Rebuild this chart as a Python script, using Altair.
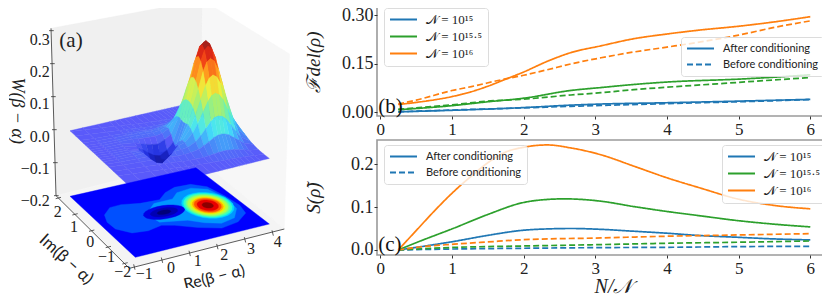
import altair as alt
import pandas as pd

# ---------- line panels: values ----------
B_ORANGE_AFTER = [(.25,.0235),(.5,.030),(1,.048),(1.27,.063),(1.5,.08),(1.73,.10),(2,.124),(2.33,.157),(2.66,.184),(3.08,.205),(3.54,.227),(4,.2415),(4.47,.254),(4.98,.265),(5.5,.279),(6,.295)]
B_ORANGE_BEFORE = [(.25,.025),(.5,.037),(1,.0667),(1.27,.079),(1.73,.102),(2,.114),(2.33,.131),(2.66,.149),(3.08,.168),(3.54,.186),(4,.201),(4.47,.217),(5,.238),(5.5,.262),(6,.282)]
B_GREEN_AFTER = [(.25,.0075),(1,.02),(1.5,.032),(2,.043),(2.66,.067),(3.08,.076),(3.54,.0855),(4,.093),(5,.102),(5.5,.108),(6,.1155)]
B_GREEN_BEFORE = [(.25,.0085),(1,.0225),(1.5,.034),(2,.040),(2.66,.053),(3.08,.060),(3.54,.0695),(4,.077),(5,.092),(5.5,.0995),(6,.107)]
B_BLUE_AFTER = [(.25,.001),(1,.0056),(2,.014),(2.66,.0216),(3.08,.025),(4,.029),(5,.034),(6,.0395)]
B_BLUE_BEFORE = [(.25,.001),(1,.0066),(2,.013),(2.66,.018),(3.08,.0207),(4,.0263),(5,.032),(6,.0385)]

C_ORANGE_AFTER = [(.25,0),(.5,.045),(.75,.09),(1,.132),(1.27,.172),(1.5,.203),(1.73,.2266),(2,.239),(2.33,.2445),(2.66,.2375),(3.08,.2215),(3.54,.195),(4,.168),(4.47,.144),(4.98,.119),(5.5,.1036),(6,.0958)]
C_GREEN_AFTER = [(.25,0),(.5,.017),(1.03,.051),(1.5,.0826),(2,.1106),(2.33,.1176),(2.57,.119),(3.08,.1135),(3.54,.101),(4,.0896),(4.47,.0794),(4.98,.0685),(5.5,.06),(6,.0537)]
C_BLUE_AFTER = [(.25,0),(.5,.006),(1.03,.02),(1.5,.034),(2,.046),(2.33,.049),(2.66,.05),(3.08,.048),(3.54,.0436),(4,.039),(4.47,.0335),(4.98,.0296),(5.5,.0257),(6,.0234)]
C_ORANGE_BEFORE = [(.25,0),(.5,.006),(1.03,.0135),(1.5,.0187),(2,.024),(3.08,.028),(4,.032),(5,.035),(6,.038)]
C_GREEN_BEFORE = [(.25,0),(1.03,.006),(2,.0093),(3.08,.0125),(4,.0156),(5,.018),(6,.021)]
C_BLUE_BEFORE = [(.25,0),(1.03,.0023),(2,.004),(3.08,.0055),(4,.0062),(5,.0078),(6,.0086)]

N15, N155, N16 = "\U0001D4A9 = 10¹⁵", "\U0001D4A9 = 10¹⁵·⁵", "\U0001D4A9 = 10¹⁶"
AFTER, BEFORE = "After conditioning", "Before conditioning"
SERIES = [N15, N155, N16]
COLORS = ["#1f77b4", "#2ca02c", "#ff7f0e"]
SERIF = "Liberation Serif"
SANS = "Lato"

def long_table(groups):
    rows = []
    for name, kind, pts in groups:
        rows += [{"x": x, "y": y, "series": name, "kind": kind} for x, y in pts]
    return pd.DataFrame(rows)

df_b = long_table([(N15,AFTER,B_BLUE_AFTER),(N15,BEFORE,B_BLUE_BEFORE),(N155,AFTER,B_GREEN_AFTER),(N155,BEFORE,B_GREEN_BEFORE),(N16,AFTER,B_ORANGE_AFTER),(N16,BEFORE,B_ORANGE_BEFORE)])
df_c = long_table([(N15,AFTER,C_BLUE_AFTER),(N15,BEFORE,C_BLUE_BEFORE),(N155,AFTER,C_GREEN_AFTER),(N155,BEFORE,C_GREEN_BEFORE),(N16,AFTER,C_ORANGE_AFTER),(N16,BEFORE,C_ORANGE_BEFORE)])

LEG = dict(orient="none", title=None, symbolType="stroke", symbolSize=729, symbolStrokeWidth=1.8,
           labelColor="#222", fillColor="rgba(255,255,255,0.8)", clipHeight=13,
           strokeColor="#dcdcdc", cornerRadius=3, padding=5, rowPadding=3, labelOffset=8)

def panel(df, ydom, yticks, yfmt, ytitle, ytitle_x, h, label, label_y, xtitle, color_xy, dash_xy):
    xscale = alt.Scale(domain=[-0.046, 6.275], nice=False, zero=False)
    x_axis = alt.Axis(values=[0,1,2,3,4,5,6], format="d", grid=False, domain=False, tickColor="#333", tickSize=3,
                      labelFont=SERIF, labelFontSize=17, labelColor="#222", labelPadding=2,
                      titleFont=SERIF, titleFontSize=20, titleFontStyle="italic", titleFontWeight="normal", titleColor="#222", titlePadding=0, titleX=236)
    y_axis = alt.Axis(values=yticks, format=yfmt, grid=False, domain=False, tickColor="#333", tickSize=3,
                      labelFont=SERIF, labelFontSize=18, labelColor="#222", labelPadding=1,
                      titleFont=SERIF, titleFontSize=19, titleFontStyle="italic", titleFontWeight="normal", titleColor="#222",
                      titleX=ytitle_x, titleY=h/2, titleAngle=270, titleAnchor="middle")
    lines = alt.Chart(df).mark_line(strokeWidth=1.7, interpolate="monotone").encode(
        x=alt.X("x:Q", scale=xscale, axis=x_axis, title=xtitle),
        y=alt.Y("y:Q", scale=alt.Scale(domain=ydom, nice=False, zero=False), axis=y_axis, title=ytitle),
        color=alt.Color("series:N", scale=alt.Scale(domain=SERIES, range=COLORS),
                        legend=alt.Legend(legendX=color_xy[0], legendY=color_xy[1], labelFont=SERIF, labelFontSize=13, **LEG)),
        strokeDash=alt.StrokeDash("kind:N", scale=alt.Scale(domain=[AFTER, BEFORE], range=[[1,0],[6,3]]),
                        legend=alt.Legend(legendX=dash_xy[0], legendY=dash_xy[1], symbolStrokeColor=COLORS[0], labelFont=SANS, labelFontSize=11, **LEG)),
        order=alt.Order("x:Q"),
    )
    tag = alt.Chart(pd.DataFrame({"x":[-0.03],"y":[label_y],"t":[label]})).mark_text(
        font=SERIF, fontSize=21, align="left", baseline="middle", color="#111").encode(
        x="x:Q", y="y:Q", text="t:N")
    return alt.layer(lines, tag).properties(width=453, height=h,
        view=alt.ViewBackground(stroke="#9a9a9a", strokeWidth=1.6))

panel_b = panel(df_b, [-0.012, 0.325], [0,.15,.30], ".2f", "ℱdel(ρ)", -54, 109, "(b)", 0.016, None, (7,1), (304,30))
panel_c = panel(df_c, [-0.0117, 0.256], [0,.1,.2], ".1f", "S(ρ̃)", -54, 115, "(c)", 0.012, "N/\U0001D4A9", (345,5), (7,5))

# ---------- 3D panel: heights ----------
RE = [-1,-.5,.1,.56,.76,.96,1.16,1.36,1.6,1.82,2.09,2.26,2.44,2.615,2.75,2.88,3.01,3.145,3.32,3.5,3.67,4]
RIDGE = [.5,.42,.33,.25,.21,.18,.14,.1,.06,.03,-.02,-.05,-.08,-.1,-.11,-.13,-.14,-.15,-.17,-.19,-.21,-.25]
IM_OFF = [0,.13,.26,.4,.53,.7,.88,1.15,1.45,2.3]
Z_00 = [0,.001,.003,-.006,-.02,-.037,-.05,-.054,-.036,-.012,.061,.125,.194,.256,.289,.300,.289,.258,.197,.131,.074,.023]
Z_15 = [0,.001,.004,-.002,-.013,-.025,-.035,-.038,-.023,-.001,.063,.123,.188,.247,.279,.289,.279,.249,.190,.126,.071,.022]
Z_30 = [0,.001,.005,.004,-.001,-.005,-.008,-.008,.003,.017,.066,.115,.169,.221,.248,.257,.248,.222,.169,.113,.064,.020]
Z_45 = [0,.001,.005,.009,.008,.008,.008,.010,.016,.027,.061,.098,.143,.184,.205,.213,.205,.184,.141,.094,.053,.017]
Z_60 = [0,.001,.005,.010,.011,.012,.013,.015,.019,.026,.051,.078,.110,.141,.157,.163,.157,.141,.108,.073,.041,.013]
Z_80 = [0,.001,.004,.007,.008,.010,.011,.012,.015,.019,.033,.049,.069,.088,.098,.101,.098,.088,.068,.045,.026,.008]
Z_100 = [0,0,.002,.004,.005,.006,.006,.006,.008,.011,.018,.027,.037,.047,.052,.054,.052,.047,.036,.025,.014,.005]
Z_130 = [0,0,.001,.001,.002,.002,.002,.002,.002,.003,.005,.008,.011,.014,.015,.016,.015,.014,.011,.008,.004,.001]
Z_160 = [0,0,0,0,0,0,0,0,0,.001,.001,.002,.002,.003,.003,.003,.003,.003,.002,.002,.001,0]
Z_230 = [0]*22
Z_ROWS = [Z_00,Z_15,Z_30,Z_45,Z_60,Z_80,Z_100,Z_130,Z_160,Z_230]

Z_STOPS = [-.055,-.03,-.01,0,.02,.05,.066,.10,.13,.174,.215,.26,.30]
Z_COLORS = ["#14148c","#1a28d8","#3a4af0","#5a5afa","#4a7cf8","#40c0fa","#44e4f8","#70f0b0","#a8f070","#f0f03c","#ff9a1e","#ee2a14","#8c1e1e"]

CONTOUR_A = [(-.55,.60),(-.14,.92),(.31,.94),(.95,.77),(1.67,.72),(2.1,1.03),(2.58,1.2),(3.18,1.16),(3.59,.82),(3.77,.09),(3.85,-.60),(3.73,-1.10),(3.19,-1.47),(2.50,-1.59),(1.83,-1.25),(1.22,-.83),(.83,-.66),(.25,-.78),(-.31,-.69),(-.68,-.27),(-.71,.19)]
CONTOUR_B = [(1.36,.59),(2.09,.60),(2.45,.88),(3.05,.95),(3.51,.68),(3.72,0),(3.64,-.73),(3.23,-1.21),(2.66,-1.33),(2.19,-1.08),(1.78,-.73),(.88,-.47),(.84,-.27),(.83,.17)]
RING_Q = [(1,0),(.966,.259),(.866,.5),(.707,.707),(.5,.866),(.259,.966)]
PEAK_C = (2.91,-.19)
PEAK_LEVELS = [(.83,"#00d8ff"),(.77,"#30ffc8"),(.70,"#70ff88"),(.64,"#b0ff48"),(.55,"#f0f000"),(.49,"#ffa800"),(.43,"#ff5000"),(.34,"#e80000"),(.18,"#8c0000")]
DIP_C = (1.36,.0)
DIP_LEVELS = [(.75,.38,"#0000e6"),(.5,.24,"#0000b4"),(.25,.12,"#000078")]

Z_TICKS = [.3,.2,.1,0,-.1,-.2]
Z_LABELS = ["0.3","0.2","0.1","0.0","−0.1","−0.2"]
IM_TICKS = [2,1,0,-1,-2]
IM_LABELS = ["2","1","0","−1","−2"]
RE_TICKS = [-1,0,1,2,3,4]
RE_LABELS = ["−1","0","1","2","3","4"]

OFF = 8
def px(x, y):            # zoomed-reference coordinates (3x) to scene pixels
    return (x/3 - OFF, y/3 - OFF)
F,R,L,B = (403,775),(805,675),(207,592),(585,506)
PX_PER_Z = 984.0
def project(re, im, z=-0.2):
    u, v = (re+1)/5, (im+2)/4
    X = F[0] + u*(R[0]-F[0]) + v*(L[0]-F[0]) + u*v*(F[0]+B[0]-R[0]-L[0])
    Y = F[1] + u*(R[1]-F[1]) + v*(L[1]-F[1]) + u*v*(F[1]+B[1]-R[1]-L[1])
    return px(X, Y - (z+0.2)*PX_PER_Z)

def poly(points, **props):
    pts = [list(p) for p in points]
    return {"type":"Feature","properties":props,"geometry":{"type":"Polygon","coordinates":[pts+[pts[0]]]}}
def line(points):
    return {"type":"Feature","properties":{},"geometry":{"type":"LineString","coordinates":[list(p) for p in points]}}
def fc(features):
    return alt.InlineData(values={"type":"FeatureCollection","features":features}, format=alt.DataFormat(property="features", type="json"))

PROJ = alt.Projection(type="identity", scale=1, translate=[0,0])

# panes of the box
TOP_L,TOP_B,TOP_R = (150,88),(605,3),(866,165)
BOT_L,BOT_B,BOT_R,BOT_F = (165,590),(597,482),(850,690),(385,808)
panes = [
    poly([px(*TOP_L),px(*TOP_B),px(*BOT_B),px(*BOT_L)], c="#f0f0f0"),
    poly([px(*TOP_B),px(*TOP_R),px(*BOT_R),px(*BOT_B)], c="#f7f7f7"),
    poly([px(*BOT_L),px(*BOT_B),px(*BOT_R),px(*BOT_F)], c="#f4f4f4"),
]

# surface quads
signed = [(-o, Z_ROWS[k]) for k, o in reversed(list(enumerate(IM_OFF))) if k > 0] + [(o, Z_ROWS[k]) for k, o in enumerate(IM_OFF)]
def pt3(i, off, row):
    im = max(-2, min(2, off + RIDGE[i]))
    return (RE[i], im, row[i])
quads = []
for j in range(len(signed)-1):
    for i in range(len(RE)-1):
        a = pt3(i, *signed[j]); b = pt3(i+1, *signed[j]); c = pt3(i+1, *signed[j+1]); d = pt3(i, *signed[j+1])
        zmean = (a[2]+b[2]+c[2]+d[2])/4
        depth = sum(project(p[0],p[1])[1] for p in (a,b,c,d))/4
        # the sheet is see-through in the reference: the pit shows above whatever is in front of it
        key = (1, -zmean) if zmean < -0.004 else (0, depth)
        quads.append((key, poly([project(*p) for p in (a,b,c,d)], z=zmean)))
quads.sort(key=lambda q: q[0])
surface_features = [q[1] for q in quads]

# floor contours
RING = RING_Q + [(-y,x) for x,y in RING_Q] + [(-x,-y) for x,y in RING_Q] + [(y,-x) for x,y in RING_Q]
floor = [poly([project(-1,-2),project(4,-2),project(4,2),project(-1,2)], c="#0000ff"),
         poly([project(*p) for p in CONTOUR_A], c="#0050ff"),
         poly([project(*p) for p in CONTOUR_B], c="#0096ff")]
for r, col in PEAK_LEVELS:
    floor.append(poly([project(PEAK_C[0]+r*x, PEAK_C[1]+r*y) for x,y in RING], c=col))
for a, b, col in DIP_LEVELS:
    floor.append(poly([project(DIP_C[0]+a*x, DIP_C[1]+b*y) for x,y in RING], c=col))

# box edges and ticks
edges = [line([px(*TOP_L),px(*BOT_L)]), line([px(*BOT_L),px(*BOT_F)]), line([px(*BOT_F),px(*BOT_R)])]
for z in Z_TICKS:
    f = (z+.2)/.507
    X = BOT_L[0]+f*(TOP_L[0]-BOT_L[0]); Y = BOT_L[1]+f*(TOP_L[1]-BOT_L[1])
    edges.append(line([px(X-6,Y),px(X+8,Y)]))
for im in IM_TICKS:
    f = (im+2)/4
    X = 372-200*f; Y = 793-196*f
    edges.append(line([px(X-8,Y+2),px(X+8,Y-2)]))
for re in RE_TICKS:
    f = (re+1)/5
    X = 400+415*f; Y = 804-102*f
    edges.append(line([px(X-2,Y-8),px(X+2,Y+8)]))

# texts
tick_rows = []
for z, t in zip(Z_TICKS, Z_LABELS):
    f = (z+.2)/.5
    x, y = px(146, 607-485*f)
    tick_rows.append({"x":x,"y":y,"t":t})
tick_df = pd.DataFrame(tick_rows)
side_rows = []
for im, t in zip(IM_TICKS, IM_LABELS):
    f = (im+2)/4
    x, y = px(365-195*f, 820-180*f)
    side_rows.append({"x":x,"y":y,"t":t})
for re, t in zip(RE_TICKS, RE_LABELS):
    f = (re+1)/5
    x, y = px(430+400*f, 825-95*f)
    side_rows.append({"x":x,"y":y,"t":t})
side_df = pd.DataFrame(side_rows)

def text_layer(df, **mk):
    return alt.Chart(df).mark_text(baseline="middle", color="#222", **mk).encode(
        longitude="x:Q", latitude="y:Q", text="t:N").project(**PROJ.to_dict())

geo_solid = lambda feats: alt.Chart(fc(feats)).mark_geoshape(strokeWidth=0.4).encode(
    fill=alt.Fill("properties.c:N", scale=None), stroke=alt.Stroke("properties.c:N", scale=None)).project(**PROJ.to_dict())

zscale = alt.Scale(domain=Z_STOPS, range=Z_COLORS, interpolate="rgb", clamp=True)
surface = alt.Chart(fc(surface_features)).mark_geoshape(strokeWidth=0.4).encode(
    fill=alt.Fill("properties.z:Q", scale=zscale, legend=None),
    stroke=alt.Stroke("properties.z:Q", scale=zscale, legend=None)).project(**PROJ.to_dict())
edge_layer = alt.Chart(fc(edges)).mark_geoshape(filled=False, stroke="#333333", strokeWidth=0.8).project(**PROJ.to_dict())

def single(t, xy, angle, **mk):
    x, y = px(*xy)
    return alt.Chart(pd.DataFrame({"x":[x],"y":[y],"t":[t]})).mark_text(baseline="middle", color="#222", angle=angle, **mk).encode(
        longitude="x:Q", latitude="y:Q", text="t:N").project(**PROJ.to_dict())

scene = alt.layer(
    geo_solid(panes), surface, geo_solid(floor), edge_layer,
    text_layer(tick_df, font=SERIF, fontSize=16, align="right"),
    text_layer(side_df, font=SERIF, fontSize=16, align="center"),
    single("(a)", (210,125), 0, font=SERIF, fontSize=21, align="center"),
    single("W(β − α)", (48,335), 90, font=SERIF, fontSize=18, align="center", fontStyle="italic"),
    single("Im(β − α)", (195,782), 42, font=SANS, fontSize=17, align="center"),
    single("Re(β − α)", (640,836), 346, font=SANS, fontSize=16, align="center"),
).resolve_scale(fill="independent", stroke="independent").properties(width=310, height=281,
    view=alt.ViewBackground(stroke="transparent"))

right = alt.vconcat(panel_b, panel_c, spacing=24, bounds="flush").resolve_scale(color="independent", strokeDash="independent")
chart = alt.hconcat(scene, right, spacing=58, bounds="flush").resolve_scale(color="independent", strokeDash="independent").properties(
    padding={"left":0,"top":-3,"right":-9,"bottom":0}, background="white")

chart.save("out.html", embed_options={"renderer": "svg", "actions": False})
